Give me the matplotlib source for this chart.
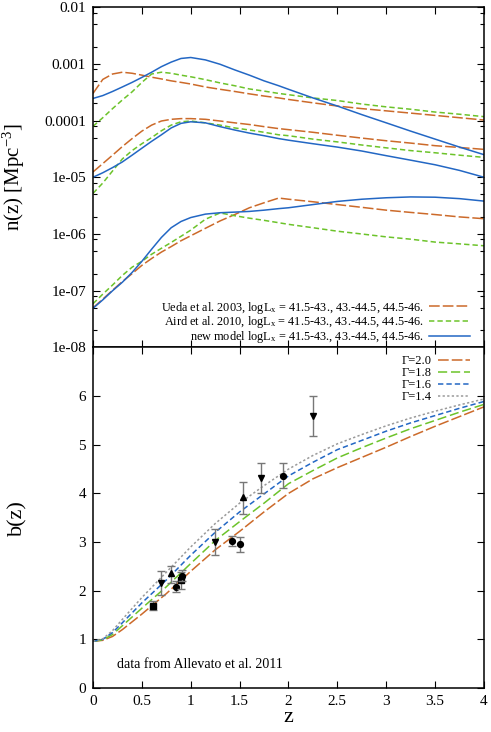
import matplotlib
matplotlib.use("Agg")
import matplotlib.pyplot as plt
import matplotlib.ticker as ticker
import numpy as np

plt.rcParams["font.family"] = ["Liberation Serif", "DejaVu Serif"]
plt.rcParams["mathtext.fontset"] = "custom"
plt.rcParams["mathtext.rm"] = "Liberation Serif"
plt.rcParams["mathtext.it"] = "Liberation Serif:italic"
plt.rcParams["mathtext.default"] = "rm"

# === Data: number density n(z) for three luminosity bins ===
z_grid = [0, 0.1, 0.2, 0.3, 0.4, 0.5, 0.6, 0.7, 0.8, 0.9, 1.0, 1.15, 1.3, 1.45,
          1.6, 1.75, 1.9, 2.0, 2.25, 2.5, 2.75, 3.0, 3.25, 3.5, 3.75, 4.0]

ueda_high = [3.0e-4, 5.3e-4, 6.6e-4, 7.1e-4, 6.8e-4, 6.3e-4, 5.8e-4, 5.4e-4, 5.0e-4,
             4.7e-4, 4.4e-4, 3.9e-4, 3.55e-4, 3.25e-4, 2.95e-4, 2.7e-4, 2.5e-4,
             2.35e-4, 2.05e-4, 1.8e-4, 1.62e-4, 1.48e-4, 1.35e-4, 1.23e-4, 1.12e-4, 1.02e-4]
ueda_mid = [1.24e-5, 1.74e-5, 2.45e-5, 3.47e-5, 4.8e-5, 6.5e-5, 8.3e-5, 9.8e-5, 1.05e-4,
            1.08e-4, 1.08e-4, 1.05e-4, 9.8e-5, 9.1e-5, 8.5e-5, 7.8e-5, 7.2e-5,
            6.9e-5, 6.2e-5, 5.5e-5, 4.9e-5, 4.4e-5, 4.0e-5, 3.6e-5, 3.35e-5, 3.1e-5]
ueda_low = [5.0e-8, 7.1e-8, 1.02e-7, 1.45e-7, 2.0e-7, 2.8e-7, 3.7e-7, 4.8e-7, 6.0e-7,
            7.6e-7, 9.3e-7, 1.26e-6, 1.7e-6, 2.2e-6, 2.9e-6, 3.55e-6, 4.3e-6,
            4.1e-6, 3.7e-6, 3.3e-6, 2.95e-6, 2.63e-6, 2.4e-6, 2.2e-6, 2.0e-6, 1.86e-6]

aird_high = [7.9e-5, 1.12e-4, 1.62e-4, 2.3e-4, 3.2e-4, 4.7e-4, 6.6e-4, 7.1e-4, 6.8e-4,
             6.3e-4, 5.9e-4, 5.25e-4, 4.6e-4, 4.1e-4, 3.6e-4, 3.3e-4, 3.0e-4,
             2.85e-4, 2.5e-4, 2.25e-4, 1.95e-4, 1.74e-4, 1.58e-4, 1.41e-4, 1.29e-4, 1.17e-4]
aird_mid = [5.2e-6, 7.9e-6, 1.29e-5, 2.1e-5, 2.95e-5, 3.9e-5, 5.0e-5, 6.6e-5, 8.3e-5,
            9.5e-5, 9.8e-5, 9.1e-5, 8.3e-5, 7.4e-5, 6.8e-5, 6.2e-5, 5.6e-5,
            5.4e-5, 4.7e-5, 4.2e-5, 3.7e-5, 3.3e-5, 2.95e-5, 2.7e-5, 2.45e-5, 2.24e-5]
aird_low = [5.9e-8, 8.7e-8, 1.26e-7, 1.86e-7, 2.6e-7, 3.3e-7, 4.4e-7, 5.6e-7, 7.1e-7,
            9.1e-7, 1.17e-6, 1.82e-6, 2.35e-6, 2.1e-6, 1.9e-6, 1.74e-6, 1.58e-6,
            1.48e-6, 1.29e-6, 1.12e-6, 1.0e-6, 8.9e-7, 8.1e-7, 7.2e-7, 6.7e-7, 6.2e-7]

new_high = [2.45e-4, 2.75e-4, 3.25e-4, 3.9e-4, 4.7e-4, 5.75e-4, 7.1e-4, 8.9e-4, 1.07e-3,
            1.24e-3, 1.29e-3, 1.17e-3, 9.8e-4, 7.8e-4, 6.3e-4, 5.0e-4, 4.1e-4,
            3.55e-4, 2.5e-4, 1.8e-4, 1.27e-4, 9.1e-5, 6.5e-5, 4.7e-5, 3.4e-5, 2.5e-5]
new_mid = [1.0e-5, 1.2e-5, 1.48e-5, 1.86e-5, 2.45e-5, 3.25e-5, 4.3e-5, 5.6e-5, 7.4e-5,
           8.9e-5, 9.5e-5, 9.1e-5, 7.8e-5, 6.8e-5, 6.0e-5, 5.4e-5, 4.8e-5,
           4.5e-5, 3.9e-5, 3.4e-5, 2.9e-5, 2.4e-5, 2.0e-5, 1.66e-5, 1.32e-5, 1.0e-5]
new_low = [4.9e-8, 6.9e-8, 1.0e-7, 1.41e-7, 2.1e-7, 3.3e-7, 5.4e-7, 8.7e-7, 1.29e-6,
           1.66e-6, 1.95e-6, 2.24e-6, 2.37e-6, 2.43e-6, 2.5e-6, 2.63e-6, 2.8e-6,
           2.9e-6, 3.3e-6, 3.75e-6, 4.1e-6, 4.35e-6, 4.5e-6, 4.45e-6, 4.2e-6, 3.8e-6]

# === Data: bias b(z) for several photon indices ===
z_bias = [0, 0.1, 0.2, 0.3, 0.5, 0.75, 1.0, 1.25, 1.5, 1.75, 2.0, 2.25, 2.5,
          2.75, 3.0, 3.25, 3.5, 3.75, 4.0]
bias_g20 = [0.96, 0.98, 1.06, 1.20, 1.52, 1.94, 2.40, 2.84, 3.22, 3.62, 4.00, 4.30,
            4.53, 4.74, 4.95, 5.17, 5.38, 5.58, 5.78]
bias_g18 = [0.96, 0.99, 1.10, 1.28, 1.64, 2.08, 2.56, 3.03, 3.42, 3.80, 4.20, 4.47,
            4.73, 4.94, 5.14, 5.33, 5.50, 5.67, 5.83]
bias_g16 = [0.96, 1.00, 1.14, 1.34, 1.75, 2.22, 2.73, 3.20, 3.62, 3.99, 4.36, 4.64,
            4.90, 5.09, 5.28, 5.45, 5.60, 5.75, 5.89]
bias_g14 = [0.96, 1.01, 1.18, 1.41, 1.86, 2.38, 2.90, 3.38, 3.80, 4.16, 4.50, 4.78,
            5.02, 5.21, 5.39, 5.55, 5.69, 5.82, 5.94]

# Allevato et al. 2011 measurements
obs_z = [0.61, 0.70, 0.80, 0.85, 0.905, 0.91, 1.245, 1.42, 1.505, 1.535, 1.72, 1.94, 2.25]
obs_b = [1.69, 2.15, 2.36, 2.08, 2.21, 2.30, 3.00, 3.02, 2.95, 3.92, 4.31, 4.36, 5.60]
obs_lo = [1.60, 1.91, 2.15, 1.97, 2.04, 2.20, 2.73, 2.91, 2.80, 3.58, 4.00, 4.12, 5.18]
obs_hi = [1.79, 2.41, 2.51, 2.19, 2.38, 2.42, 3.27, 3.13, 3.10, 4.24, 4.62, 4.62, 6.01]
obs_marker = ["s", "v", "^", "o", "s", "o", "v", "o", "o", "^", "v", "o", "v"]

ORANGE = "#cc6a2a"
GREEN = "#6cc32a"
BLUE = "#2367c4"
GRAY = "#9a9a9a"

fig = plt.figure(figsize=(4.91, 7.32), dpi=100)
ax1 = fig.add_axes([0.1894, 0.5253, 0.7963, 0.4651])
ax2 = fig.add_axes([0.1894, 0.0601, 0.7963, 0.4652])

# === Top panel ===
lw = 1.1
ueda_dash = (0, (7, 2))
aird_dash = (0, (3.5, 2))
for i, vals in enumerate([ueda_low, ueda_mid, ueda_high]):
    ax1.plot(z_grid, vals, color=ORANGE, lw=lw, linestyle=ueda_dash,
             label="Ueda et al. 2003, logL$_\\mathrm{x}$ = 41.5-43., 43.-44.5, 44.5-46." if i == 0 else None)
for i, vals in enumerate([aird_low, aird_mid, aird_high]):
    ax1.plot(z_grid, vals, color=GREEN, lw=lw, linestyle=aird_dash,
             label="Aird et al. 2010, logL$_\\mathrm{x}$ = 41.5-43., 43.-44.5, 44.5-46." if i == 0 else None)
for i, vals in enumerate([new_low, new_mid, new_high]):
    ax1.plot(z_grid, vals, color=BLUE, lw=lw, linestyle="-",
             label="new model logL$_\\mathrm{x}$ = 41.5-43., 43.-44.5, 44.5-46." if i == 0 else None)

ax1.set_yscale("log")
ax1.set_ylim(1e-8, 1e-2)
ax1.set_xlim(0, 4)
ax1.yaxis.set_major_locator(ticker.LogLocator(base=10, numticks=10))
ax1.yaxis.set_minor_locator(ticker.LogLocator(base=10, subs=(2, 5, 8), numticks=10))
ax1.yaxis.set_minor_formatter(ticker.NullFormatter())
ax1.yaxis.set_major_formatter(ticker.FuncFormatter(
    lambda v, _: {1e-2: "0.01", 1e-3: "0.001", 1e-4: "0.0001"}.get(
        round(v, 12), f"1e-{int(round(-np.log10(v))):02d}")))
ax1.xaxis.set_major_locator(ticker.MultipleLocator(0.5))
ax1.set_xticklabels([])
ax1.set_ylabel("n(z) [Mpc$^{-3}$]", fontsize=15)
ax1.yaxis.set_label_coords(-0.168, 0.5)
ax1.legend(loc="lower right", bbox_to_anchor=(0.99, -0.022), frameon=False,
           markerfirst=False, fontsize=8.8, handlelength=3.4, labelspacing=-0.1,
           handletextpad=0.4, borderpad=0.3)

# === Bottom panel ===
ax2.plot(z_bias, bias_g20, color=ORANGE, lw=lw, linestyle=(0, (7, 2)), label="Γ=2.0")
ax2.plot(z_bias, bias_g18, color=GREEN, lw=lw, linestyle=(0, (6, 2.5)), label="Γ=1.8")
ax2.plot(z_bias, bias_g16, color=BLUE, lw=lw, linestyle=(0, (3.5, 2)), label="Γ=1.6")
ax2.plot(z_bias, bias_g14, color=GRAY, lw=lw, linestyle=(0, (1.5, 1.5)), label="Γ=1.4")

for zi, bi, lo, hi, m in zip(obs_z, obs_b, obs_lo, obs_hi, obs_marker):
    ax2.errorbar([zi], [bi], yerr=[[bi - lo], [hi - bi]], fmt="none", ecolor="#777777",
                 elinewidth=1.0, capsize=3, capthick=1.0)
    ax2.plot([zi], [bi], marker=m, color="black", markersize=4.0 if m != "o" else 4.2,
             linestyle="none")

ax2.text(0.245, 0.49, "data from Allevato et al. 2011", fontsize=10, va="center", ha="left")

ax2.set_xlim(0, 4)
ax2.set_ylim(0, 7)
ax2.xaxis.set_major_locator(ticker.MultipleLocator(0.5))
ax2.xaxis.set_major_formatter(ticker.FuncFormatter(lambda v, _: f"{v:g}"))
ax2.yaxis.set_major_locator(ticker.FixedLocator([0, 1, 2, 3, 4, 5, 6]))
ax2.set_xlabel("z", fontsize=16)
ax2.xaxis.set_label_coords(0.5, -0.06)
ax2.set_ylabel("b(z)", fontsize=16)
ax2.yaxis.set_label_coords(-0.168, 0.5)
ax2.legend(loc="upper right", bbox_to_anchor=(0.99, 1.006), frameon=False,
           markerfirst=False, fontsize=9, handlelength=2.6, labelspacing=0.0,
           handletextpad=0.5, borderpad=0.3)

for ax in (ax1, ax2):
    ax.tick_params(which="both", direction="in", top=True, right=True,
                   labelsize=11, pad=5)
    ax.tick_params(which="major", length=5, width=0.8)
    ax.tick_params(which="minor", length=3, width=0.8)
    for s in ax.spines.values():
        s.set_linewidth(1.1)

plt.savefig("out.png", dpi=100)
